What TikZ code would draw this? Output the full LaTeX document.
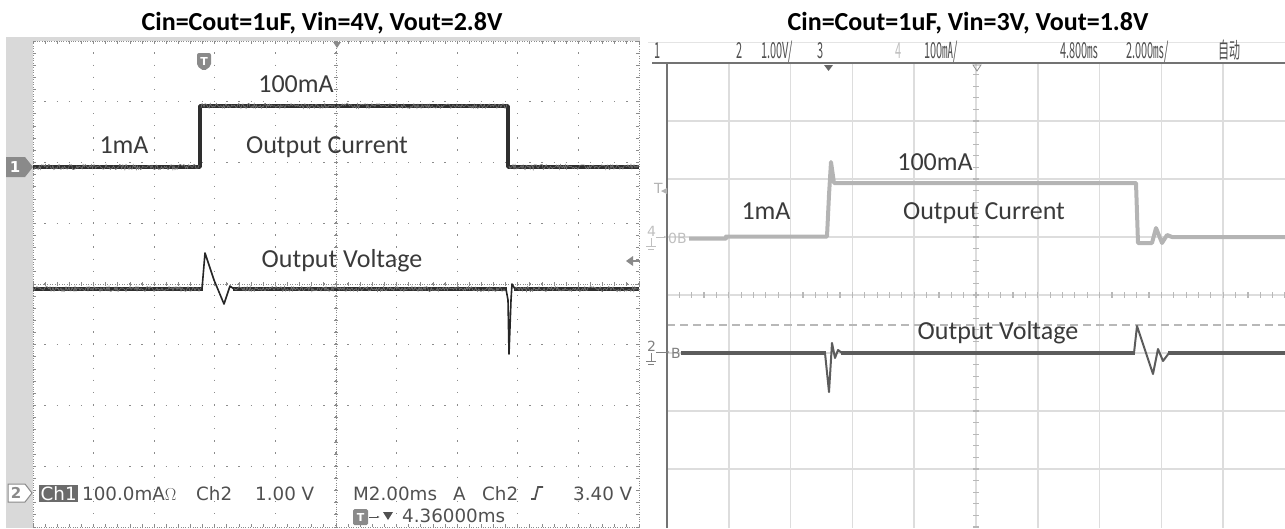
\documentclass[tikz,border=0pt]{standalone}
\usepackage{fontspec}
\usetikzlibrary{arrows.meta}
\setmainfont{Carlito}
\newfontfamily\readfont{DejaVu Sans}
\newfontfamily\hdrfont[FakeStretch=0.5]{Noto Sans CJK SC}
\definecolor{lblgray}{HTML}{3A3A3A}
\definecolor{rdgray}{HTML}{505050}
\definecolor{framegray}{HTML}{D9D9D9}
\definecolor{dotgray}{HTML}{8C8C8C}
\definecolor{mkgray}{HTML}{8A8A8A}
\definecolor{gridgray}{HTML}{DDDDDD}
\definecolor{tickgray}{HTML}{B8B8B8}
\definecolor{curgray}{HTML}{B4B4B4}
\definecolor{voltgray}{HTML}{5C5C5C}
\tikzset{
  lbl/.style={font=\fontsize{26}{30}\selectfont, text=lblgray, inner sep=0pt, anchor=base},
  ttl/.style={font=\bfseries\fontsize{26}{30}\selectfont, inner sep=0pt, anchor=base},
  rdout/.style={font=\readfont\fontsize{18.3}{21}\selectfont, text=rdgray, inner sep=0pt, anchor=base west},
  hdr/.style={font=\hdrfont\fontsize{22}{24}\selectfont, text=rdgray, inner sep=0pt, anchor=base west},
  sidemk/.style={font=\readfont\fontsize{14}{15}\selectfont, inner sep=0pt, anchor=base west},
  dotgrid/.style={dotgray, line width=1.3pt, dash pattern=on 1.3pt off 10.82pt, dash phase=0.65pt},
  densegrid/.style={dotgray, line width=0.9pt, dash pattern=on 0.9pt off 1.5pt},
  ltick/.style={dotgray, line width=0.9pt},
  rgrid/.style={gridgray, line width=1.6pt},
  rtick/.style={tickgray, line width=1.2pt},
  trace/.style={black!82, line width=3.4pt, line join=round},
  fuzz/.style={black!55, line width=0.6pt},
  spike/.style={black!85, line width=1.6pt, line join=round},
  curtrace/.style={curgray, line width=4pt, line join=round},
  volttrace/.style={voltgray, line width=3.6pt},
  vspike/.style={voltgray, line width=2pt, line join=round},
}
\begin{document}
\begin{tikzpicture}[x=1pt,y=-1pt]
\useasboundingbox (0,0) rectangle (1285,528);
% titles
\node[ttl] (ttlA) at (322,30) {Cin=Cout=1uF, Vin=4V, Vout=2.8V};
\node[ttl] (ttlB) at (968,30) {Cin=Cout=1uF, Vin=3V, Vout=1.8V};

%%% left scope
\fill[framegray] (6,37) rectangle (33,528);
\fill[framegray] (6,37) rectangle (640,41);
\foreach \i in {1,...,9} \draw[dotgrid] ({33+60.6*\i},41) -- ({33+60.6*\i},527);
\foreach \j in {1,...,7} \draw[dotgrid] (33,{41+60.75*\j}) -- (639,{41+60.75*\j});
\draw[densegrid] (33,41) rectangle (639,527);
\draw[densegrid] (336,41) -- (336,527);
\draw[densegrid] (33,284) -- (639,284);
\foreach \k in {0,...,50} {
  \draw[ltick] ({33+12.12*\k},282) -- ++(0,4);
  \draw[ltick] ({33+12.12*\k},41) -- ++(0,3);
  \draw[ltick] ({33+12.12*\k},527) -- ++(0,-3);
}
\foreach \k in {0,...,40} {
  \draw[ltick] (334,{41+12.15*\k}) -- ++(4,0);
  \draw[ltick] (33,{41+12.15*\k}) -- ++(3,0);
  \draw[ltick] (639,{41+12.15*\k}) -- ++(-3,0);
}
% markers
\fill[mkgray] (333,42) -- (341,42) -- (337,48) -- cycle;
\fill[mkgray, rounded corners=2pt] (197,53) -- (211,53) -- (211,66) -- (204,71) -- (197,66) -- cycle;
\node[text=white, font=\readfont\bfseries\fontsize{11}{12}\selectfont, inner sep=0pt] (trgA) at (204,61) {T};
\fill[mkgray] (6,157) -- (25,157) -- (33,167) -- (25,177) -- (6,177) -- cycle;
\node[text=white, font=\readfont\bfseries\fontsize{15}{16}\selectfont, inner sep=0pt] (chA) at (15,167) {1};
\draw[mkgray, fill=white, line width=1pt] (8,484) -- (25,484) -- (32,493) -- (25,502) -- (8,502) -- cycle;
\node[text=mkgray, font=\readfont\bfseries\fontsize{15}{16}\selectfont, inner sep=0pt] (chB) at (16,493) {2};
\fill[mkgray] (626,261) -- (633,256) -- (633,266) -- cycle;
\draw[mkgray, line width=1.5pt] (632,261) -- (640,261);
% traces
\draw[trace] (33,167) -- (200,167) -- (200,106) -- (508,106) -- (508,167) -- (639,167);
\draw[fuzz] plot[domain=33:199,samples=160] (\x,{167+2.6*rand});
\draw[fuzz] plot[domain=201:507,samples=300] (\x,{106+2.6*rand});
\draw[fuzz] plot[domain=509:639,samples=130] (\x,{167+2.6*rand});
\draw[trace] (33,289) -- (203,289);
\draw[trace] (233,289) -- (507,289);
\draw[trace] (514,289) -- (639,289);
\draw[fuzz] plot[domain=33:202,samples=170] (\x,{289+2.6*rand});
\draw[fuzz] plot[domain=234:506,samples=270] (\x,{289+2.6*rand});
\draw[fuzz] plot[domain=515:639,samples=120] (\x,{289+2.6*rand});
\draw[spike] (202,289) -- (205,253) -- (214,280) -- (224,304) -- (230,286) -- (234,289);
\draw[spike] (506,289) -- (508,300) -- (509,354) -- (511,300) -- (512,284) -- (515,289);
% labels
\node[lbl] (hiA) at (296,92) {100mA};
\node[lbl] (loA) at (124,153) {1mA};
\node[lbl] (curA) at (327,153) {Output Current};
\node[lbl] (volA) at (342,267) {Output Voltage};
% readout
\node[rdout, fill=black!58, text=white, inner sep=1.5pt] (rdChA) at (39,500) {Ch1};
\node[rdout] (rdScA) at (82,500) {100.0mA$\Omega$};
\node[rdout] (rdChB) at (196,500) {Ch2};
\node[rdout] (rdScB) at (255,500) {1.00 V};
\node[rdout] (rdTb) at (353,500) {M2.00ms};
\node[rdout] (rdMd) at (453,500) {A};
\node[rdout] (rdSrc) at (482,500) {Ch2};
\draw[rdgray, line width=1.7pt] (531,499) -- (535,499) -- (538,487) -- (543,487);
\node[rdout] (rdLvl) at (573,500) {3.40 V};
\fill[mkgray, rounded corners=1.5pt] (353,509) rectangle (368,525);
\node[text=white, font=\readfont\bfseries\fontsize{11}{12}\selectfont, inner sep=0pt] (trgB) at (360.5,517) {T};
\draw[rdgray, line width=1pt, -{Latex[length=3pt]}] (369,517) -- (380,517);
\fill[rdgray] (383,512) -- (393,512) -- (388,520) -- cycle;
\node[rdout] (rdPos) at (402,522) {4.36000ms};

%%% right scope
\draw[gridgray!80, line width=1pt] (648,42) -- (1285,42);
\foreach \i in {1,...,9} \draw[rgrid] ({667+61.8*\i},63) -- ({667+61.8*\i},528);
\foreach \j in {1,...,7} \draw[rgrid] (667,{63+58*\j}) -- (1285,{63+58*\j});
\foreach \k in {0,...,40} \draw[rtick] (973,{63+11.6*\k}) -- ++(6,0);
\foreach \k in {0,...,50} \draw[rtick] ({667+12.36*\k},292) -- ++(0,6);
\draw[tickgray, line width=1.5pt, dash pattern=on 8pt off 5pt] (667,325) -- (1285,325);
\draw[black!55, line width=2pt] (652,63) -- (1285,63);
\draw[black!55, line width=2.5pt] (667,63) -- (667,528);
% header
\node[hdr] (hdA) at (654,58) {1};
\node[hdr] (hdB) at (736,58) {2};
\node[hdr] (hdBs) at (761,58) {1.00V/};
\node[hdr] (hdC) at (817,58) {3};
\node[hdr, text=black!25] (hdD) at (895,58) {4};
\node[hdr] (hdDs) at (924,58) {100㎃/};
\node[hdr] (hdPos) at (1060,58) {4.800㎳};
\node[hdr] (hdTb) at (1126,58) {2.000㎳/};
\node[hdr] (hdMd) at (1218,58) {自动};
\fill[black!60] (824,65) -- (833,65) -- (828.5,71) -- cycle;
\draw[black!45, line width=0.8pt] (973,65) -- (981,65) -- (977,71) -- cycle;
% side markers
\node[sidemk, text=black!30] (rtT) at (654,193) {T};
\fill[black!30] (661,191) -- (667,188) -- (667,194) -- cycle;
\node[sidemk, text=black!25] (rtD) at (647,236) {4};
\draw[black!25, line width=1pt] (651,238) -- (651,246) (646,246) -- (656,246) (648,249) -- (654,249);
\draw[black!25, line width=1pt, -{Latex[length=3pt]}] (656,237) -- (667,237);
\node[sidemk, text=black!25] (rtDb) at (668,243) {0B};
\node[sidemk, text=black!50] (rtB) at (647,351) {2};
\draw[black!50, line width=1pt] (651,353) -- (651,361) (646,361) -- (656,361) (648,364) -- (654,364);
\draw[black!50, line width=1pt, -{Latex[length=3pt]}] (656,352) -- (670,352);
\node[sidemk, text=black!50] (rtBb) at (671,358) {B};
% traces
\draw[curtrace] (689,238.5) -- (726,238.5) -- (726,236.5) -- (827,236.5) -- (829,195) -- (831,162) -- (834,183) -- (1136,183) -- (1138,243) -- (1152,243) -- (1156,228) -- (1162,243) -- (1167,235) -- (1172,237) -- (1285,237);
\draw[volttrace] (681,353) -- (826,353);
\draw[volttrace] (841,353) -- (1135,353);
\draw[volttrace] (1168,353) -- (1285,353);
\draw[vspike] (825,353) -- (829,392) -- (832,343) -- (835,358) -- (838,350) -- (842,353);
\draw[vspike] (1134,353) -- (1137,326) -- (1153,374) -- (1158,349) -- (1163,361) -- (1169,353);
% labels
\node[lbl] (hiB) at (935,170) {100mA};
\node[lbl] (loB) at (766,219) {1mA};
\node[lbl] (curB) at (984,219) {Output Current};
\node[lbl] (volB) at (998,339) {Output Voltage};
\end{tikzpicture}
\end{document}
